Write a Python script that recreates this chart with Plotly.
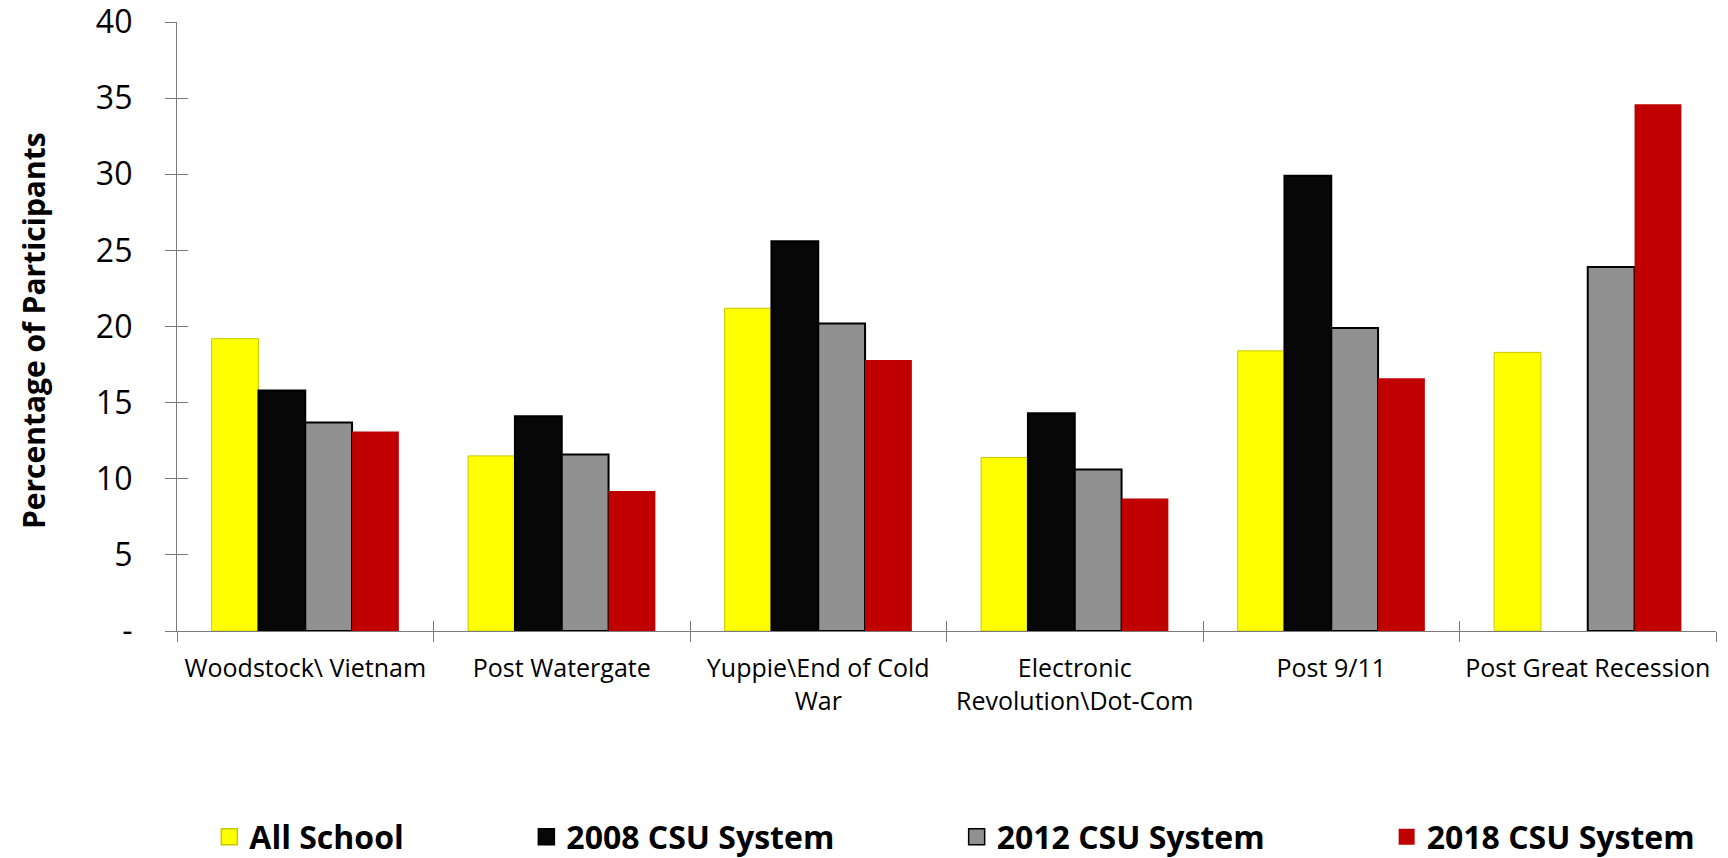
import plotly.graph_objects as go

categories = ["Woodstock\\ Vietnam", "Post Watergate", "Yuppie\\End of Cold<br>War",
              "Electronic<br>Revolution\\Dot-Com", "Post 9/11", "Post Great Recession"]
all_school = [19.2, 11.5, 21.2, 11.4, 18.4, 18.3]
csu_2008 = [15.8, 14.1, 25.6, 14.3, 29.9, None]
csu_2012 = [13.7, 11.6, 20.2, 10.6, 19.9, 23.9]
csu_2018 = [13.1, 9.2, 17.8, 8.7, 16.6, 34.6]
series_names = ["All School", "2008 CSU System", "2012 CSU System", "2018 CSU System"]
y_tickvals = [0, 5, 10, 15, 20, 25, 30, 35, 40]
y_ticktext = ["-", "5", "10", "15", "20", "25", "30", "35", "40"]
y_title = "Percentage of Participants"

colors = ["#FFFF00", "#070707", "#919191", "#C00000"]
line_colors = ["#C8C800", "#000000", "#000000", "#C00000"]
line_widths = [1, 2, 2, 0]
legend_names = ["legend", "legend2", "legend3", "legend4"]
legend_x = [0.021, 0.227, 0.5066, 0.786]

font_family = "Open Sans"
fig = go.Figure()
for name, vals, c, lc, lw, lg in zip(series_names, [all_school, csu_2008, csu_2012, csu_2018],
                                      colors, line_colors, line_widths, legend_names):
    fig.add_trace(go.Bar(x=categories, y=vals, name=name, showlegend=False,
                         marker=dict(color=c, line=dict(color=lc, width=lw))))
    # legend swatch (square marker, no data)
    fig.add_trace(go.Scatter(x=[None], y=[None], mode="markers", name=name, legend=lg,
                             marker=dict(symbol="square", size=16, color=c,
                                         line=dict(color=lc if lw else c, width=1.5 if lw else 0))))

axis_color = "#7a7a7a"
legend_common = dict(orientation="h", y=-0.338, yanchor="middle", xanchor="left",
                     font=dict(size=32, family=font_family, weight="bold", color="black"),
                     itemclick=False, itemdoubleclick=False, bgcolor="rgba(0,0,0,0)")
layout_legends = {lg: dict(x=lx, **legend_common) for lg, lx in zip(legend_names, legend_x)}

# page body adds an 8px offset, so the figure is sized to fit the 1728x858 window
fig.update_layout(
    width=1720, height=850,
    margin=dict(l=169, r=12, t=14, b=227, autoexpand=False),
    paper_bgcolor="white", plot_bgcolor="white",
    barmode="group", bargap=0.27, bargroupgap=0,
    font=dict(family=font_family, color="black"),
    showlegend=True,
    xaxis=dict(type="category", showline=True, linecolor=axis_color, linewidth=1.3,
               ticks="outside", ticklen=10, tickcolor=axis_color, tickwidth=1.3,
               tickson="boundaries", tickfont=dict(size=25, family=font_family),
               ticklabelstandoff=15, automargin=False,
               showgrid=False, zeroline=False),
    xaxis2=dict(type="category", overlaying="x", matches="x", side="bottom",
                showline=False, ticks="inside", ticklen=10, tickcolor=axis_color,
                tickwidth=1.3, tickson="boundaries", showticklabels=False,
                showgrid=False, zeroline=False),
    yaxis=dict(range=[0, 40], tickvals=y_tickvals, ticktext=y_ticktext,
               showline=True, linecolor=axis_color, linewidth=1.3,
               ticks="outside", ticklen=11, tickcolor=axis_color, tickwidth=1.3,
               ticklabelstandoff=26, automargin=False, ticklabeloverflow="allow",
               tickfont=dict(size=32, family=font_family), showgrid=False, zeroline=False),
    yaxis2=dict(range=[0, 40], overlaying="y", matches="y", tickvals=y_tickvals,
                showline=False, ticks="inside", ticklen=11, tickcolor=axis_color,
                tickwidth=1.3, showticklabels=False, showgrid=False, zeroline=False),
    annotations=[dict(text=y_title, xref="paper", yref="paper", x=-0.0936, y=0.494,
                      xanchor="center", yanchor="middle", textangle=-90, showarrow=False,
                      font=dict(size=30, family=font_family, weight="bold", color="black"))],
    **layout_legends,
)
# invisible trace to activate the overlay axes
fig.add_trace(go.Bar(x=categories, y=[None] * len(categories), xaxis="x2", yaxis="y2",
                     showlegend=False, hoverinfo="skip"))

fig.write_html("out.html")
